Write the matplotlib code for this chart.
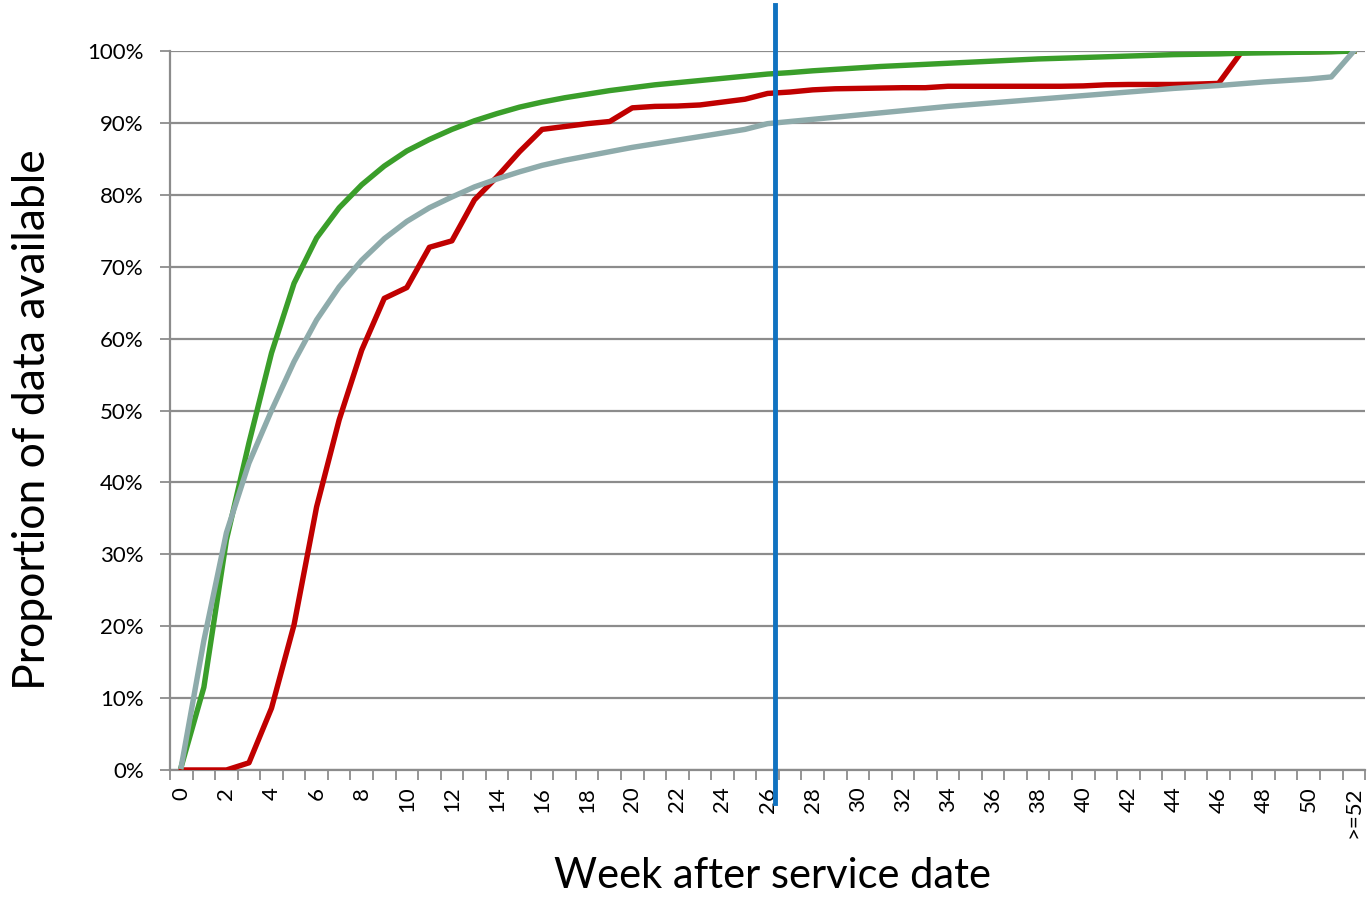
import numpy as np
import matplotlib
matplotlib.use("Agg")
import matplotlib.pyplot as plt
from matplotlib.ticker import FixedLocator, PercentFormatter

plt.rcParams['font.family'] = ['Lato', 'DejaVu Sans']

weeks = list(range(53))
weekLabels = [str(w) if w % 2 == 0 else "" for w in range(52)] + [">=52"]

green = [0.5, 11.5, 32, 45.5, 58, 67.7, 74, 78.2, 81.4, 84, 86.1, 87.7, 89.1,
         90.3, 91.3, 92.2, 92.9, 93.5, 94.0, 94.5, 94.9, 95.3, 95.6, 95.9, 96.2,
         96.5, 96.8, 97.0, 97.25, 97.45, 97.65, 97.85, 98.0, 98.15, 98.3, 98.45,
         98.6, 98.75, 98.9, 99.0, 99.1, 99.2, 99.3, 99.4, 99.5, 99.55, 99.6,
         99.7, 99.75, 99.8, 99.85, 99.9, 100]

red = [0, 0, 0, 1, 8.6, 20.2, 36.6, 48.7, 58.4, 65.6, 67.1, 72.7, 73.6, 79.3,
       82.5, 86, 89.1, 89.5, 89.9, 90.2, 92.1, 92.3, 92.35, 92.5, 92.9, 93.3,
       94.1, 94.3, 94.6, 94.75, 94.8, 94.85, 94.9, 94.9, 95.1, 95.1, 95.1,
       95.1, 95.1, 95.1, 95.15, 95.3, 95.35, 95.35, 95.35, 95.4, 95.5, 99.8,
       99.85, 99.9, 99.9, 99.95, 100]

gray = [0.5, 18, 33, 42.7, 50, 56.8, 62.6, 67.2, 70.9, 73.9, 76.3, 78.2, 79.7,
        81.1, 82.2, 83.2, 84.1, 84.8, 85.4, 86.0, 86.6, 87.1, 87.6, 88.1, 88.6,
        89.1, 89.9, 90.2, 90.5, 90.8, 91.1, 91.4, 91.7, 92.0, 92.3, 92.55, 92.8,
        93.05, 93.3, 93.55, 93.8, 94.05, 94.3, 94.55, 94.8, 95.0, 95.2, 95.45,
        95.7, 95.9, 96.1, 96.4, 100]

cutoffWeek = 26.35

fig = plt.figure(figsize=(13.68, 8.97), dpi=100)
ax = fig.add_axes([0.1243, 0.1416, 0.8736, 0.8015])

ax.plot(weeks, red, color="#C00000", lw=3.9, zorder=3)
ax.plot(weeks, green, color="#3A9E2A", lw=3.9, zorder=4)
ax.plot(weeks, gray, color="#8EABAB", lw=3.9, zorder=5)
ax.plot([cutoffWeek, cutoffWeek], [106.4, -4.6], color="#1072C0", lw=3.5,
        clip_on=False, zorder=6)

ax.set_xlim(-0.5, 52.5)
ax.set_ylim(0, 100)

ax.set_yticks(np.arange(0, 101, 10))
ax.yaxis.set_major_formatter(PercentFormatter(decimals=0))
ax.grid(axis="y", color="#8C8C8C", lw=1.6)
ax.set_axisbelow(True)

ax.set_xticks(weeks)
ax.set_xticklabels(weekLabels, rotation=90, va="top", ha="center")
ax.xaxis.set_minor_locator(FixedLocator(np.arange(-0.5, 53, 1)))
ax.tick_params(axis="x", which="major", length=0, labelsize=16, pad=12)
ax.tick_params(axis="x", which="minor", length=7, width=1.3, color="#8C8C8C")
ax.tick_params(axis="y", which="major", length=7, width=1.3, color="#8C8C8C",
               labelsize=16, pad=12)

for side in ["top", "right"]:
    ax.spines[side].set_visible(False)
for side in ["left", "bottom"]:
    ax.spines[side].set_color("#8C8C8C")
    ax.spines[side].set_linewidth(1.6)

ax.set_xlabel("Week after service date", fontsize=30)
ax.xaxis.set_label_coords(0.5038, -0.147)
ax.xaxis.label.set_va("center")
ax.set_ylabel("Proportion of data available", fontsize=32)
ax.yaxis.set_label_coords(-0.1155, 0.4868)
ax.yaxis.label.set_va("center")

fig.savefig("out.png", dpi=100)
